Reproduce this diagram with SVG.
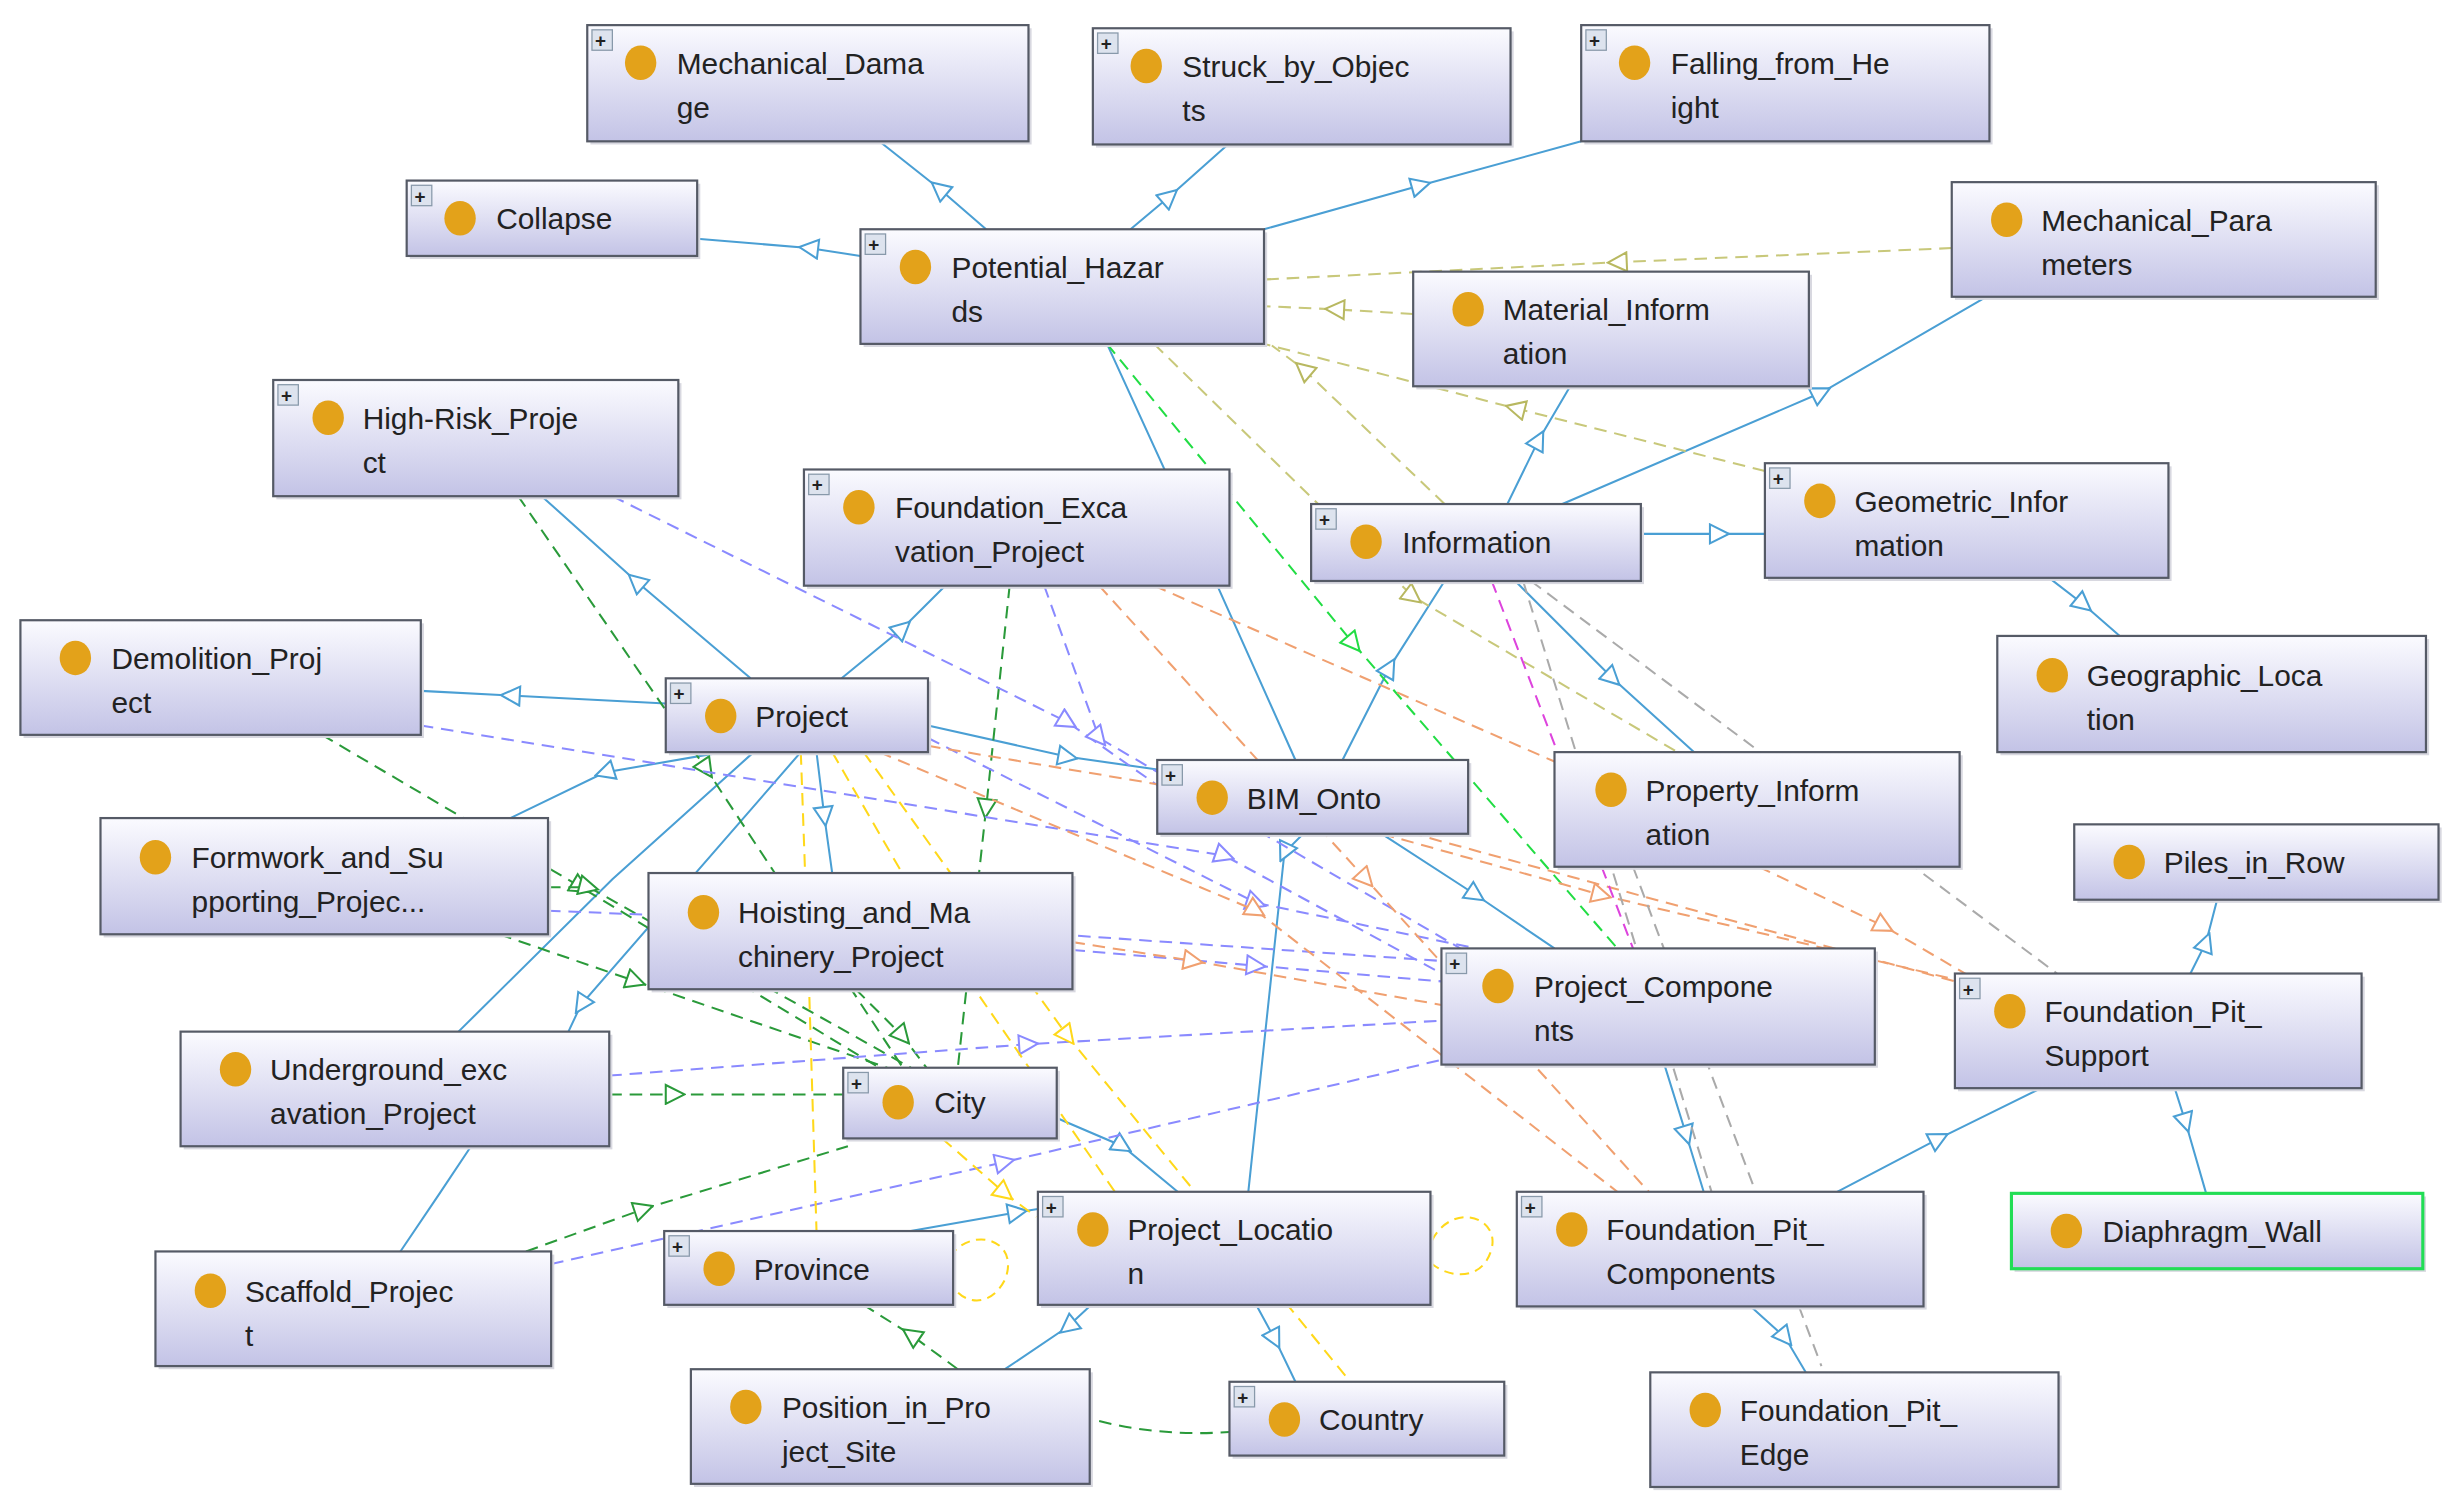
<svg xmlns="http://www.w3.org/2000/svg" width="2462" height="1510" viewBox="0 0 2462 1510">
<style>
.n rect.b{fill:url(#g);stroke:#555a66;stroke-width:1.4}
.n rect.s{fill:#d8d8e0}
.n text{font-family:"Liberation Sans",Arial,sans-serif;font-size:19px;fill:#222}
.n ellipse{fill:#e3a21a}
.n .p{fill:#dde3ee;stroke:#8899aa;stroke-width:0.8}
.n .pt{font-size:12px;font-weight:bold}
.e polyline{fill:none;stroke-width:1.3}
.bl{stroke:#4a9fd4;marker-mid:url(#mb)}
.bn{stroke:#4a9fd4}
.ol{stroke:#c8c87a;stroke-dasharray:8 5;marker-mid:url(#mo)}
.gr{stroke:#2a9a3a;stroke-dasharray:8 5;marker-mid:url(#mg)}
.lg{stroke:#22dd44;stroke-dasharray:8 5;marker-mid:url(#ml)}
.pu{stroke:#8a8aff;stroke-dasharray:8 5;marker-mid:url(#mp)}
.or{stroke:#f0a070;stroke-dasharray:8 5;marker-mid:url(#mr)}
.ye{stroke:#ffd81a;stroke-dasharray:8 5;marker-mid:url(#my)}
.gy{stroke:#aaaaaa;stroke-dasharray:8 5}
.mg2{stroke:#dd44dd;stroke-dasharray:8 5}
</style>
<defs>
<linearGradient id="g" x1="0" y1="0" x2="0" y2="1"><stop offset="0" stop-color="#fbfbff"/><stop offset="1" stop-color="#c3c3e6"/></linearGradient>
<marker id="mb" viewBox="0 0 14 14" refX="7" refY="7" markerWidth="14" markerHeight="14" markerUnits="userSpaceOnUse" orient="auto"><path d="M1,1 L13,7 L1,13 z" fill="#fff" stroke="#4a9fd4" stroke-width="1.3"/></marker>
<marker id="mo" viewBox="0 0 14 14" refX="7" refY="7" markerWidth="14" markerHeight="14" markerUnits="userSpaceOnUse" orient="auto"><path d="M1,1 L13,7 L1,13 z" fill="#fff" stroke="#b8b860" stroke-width="1.3"/></marker>
<marker id="mg" viewBox="0 0 14 14" refX="7" refY="7" markerWidth="14" markerHeight="14" markerUnits="userSpaceOnUse" orient="auto"><path d="M1,1 L13,7 L1,13 z" fill="#fff" stroke="#2a9a3a" stroke-width="1.3"/></marker>
<marker id="ml" viewBox="0 0 14 14" refX="7" refY="7" markerWidth="14" markerHeight="14" markerUnits="userSpaceOnUse" orient="auto"><path d="M1,1 L13,7 L1,13 z" fill="#fff" stroke="#22dd44" stroke-width="1.3"/></marker>
<marker id="mp" viewBox="0 0 14 14" refX="7" refY="7" markerWidth="14" markerHeight="14" markerUnits="userSpaceOnUse" orient="auto"><path d="M1,1 L13,7 L1,13 z" fill="#fff" stroke="#8a8aff" stroke-width="1.3"/></marker>
<marker id="mr" viewBox="0 0 14 14" refX="7" refY="7" markerWidth="14" markerHeight="14" markerUnits="userSpaceOnUse" orient="auto"><path d="M1,1 L13,7 L1,13 z" fill="#fff" stroke="#f0a070" stroke-width="1.3"/></marker>
<marker id="my" viewBox="0 0 14 14" refX="7" refY="7" markerWidth="14" markerHeight="14" markerUnits="userSpaceOnUse" orient="auto"><path d="M1,1 L13,7 L1,13 z" fill="#fff" stroke="#ffd81a" stroke-width="1.3"/></marker>
</defs>
<rect width="2462" height="1510" fill="#fff"/>
<g transform="scale(1.5702,1.5702)">
<g id="connectors" class="e">
<polyline class="bl" points="628,146 598,120 560,90"/>
<polyline class="bl" points="720,146 745,125 782,92"/>
<polyline class="bl" points="805,146 905,118 1007,90"/>
<polyline class="bl" points="548,163 515,158 444,152"/>
<polyline class="bl" points="960,321 980,280 1000,246"/>
<polyline class="bl" points="995,321 1160,250 1265,189"/>
<polyline class="bl" points="1045,340 1095,340 1124,340"/>
<polyline class="bl" points="1305,368 1327,385 1350,405"/>
<polyline class="bl" points="478,432 405,370 345,316"/>
<polyline class="bl" points="536,432 575,400 602,373"/>
<polyline class="bl" points="424,448 325,443 268,440"/>
<polyline class="bl" points="460,479 385,492 325,521"/>
<polyline class="bn" points="480,479 390,560 292,657"/>
<polyline class="bl" points="510,479 370,640 362,657"/>
<polyline class="bn" points="300,730 280,760 255,797"/>
<polyline class="bl" points="591,462 680,482 737,490"/>
<polyline class="bl" points="520,479 525,520 530,556"/>
<polyline class="bn" points="705,219 765,350 825,484"/>
<polyline class="bl" points="855,484 885,425 920,370"/>
<polyline class="bl" points="830,531 818,543 795,759"/>
<polyline class="bl" points="880,531 940,570 990,604"/>
<polyline class="bl" points="965,370 1027,432 1080,480"/>
<polyline class="bl" points="1060,678 1074,723 1085,759"/>
<polyline class="bl" points="1115,832 1137,852 1150,874"/>
<polyline class="bl" points="1170,759 1235,725 1300,693"/>
<polyline class="bl" points="1395,620 1405,600 1412,573"/>
<polyline class="bl" points="1385,693 1392,715 1405,760"/>
<polyline class="bl" points="695,831 680,845 640,872"/>
<polyline class="bl" points="800,831 812,853 825,880"/>
<polyline class="bl" points="580,784 648,772 661,770"/>
<polyline class="bl" points="673,712 715,730 750,759"/>
<polyline class="ol" points="1243,158 1030,167 805,178"/>
<polyline class="ol" points="900,200 850,197 805,195"/>
<polyline class="ol" points="920,321 830,235 810,220"/>
<polyline class="ol" points="1124,300 965,260 805,219"/>
<polyline class="ol" points="735,219 900,380 1070,480"/>
<polyline class="gr" points="330,316 450,490 575,680"/>
<polyline class="gr" points="205,468 370,565 560,680"/>
<polyline class="gr" points="349,565 375,565 580,680"/>
<polyline class="gr" points="318,595 405,625 565,680"/>
<polyline class="gr" points="388,697 430,697 537,697"/>
<polyline class="gr" points="335,797 410,770 540,730"/>
<polyline class="gr" points="643,373 628,515 610,680"/>
<polyline class="gr" points="545,630 575,660 590,680"/>
<path class="gr" d="M700,905 Q740,915 783,912" fill="none" stroke-width="1.3"/>
<polyline class="gr" points="610,872 580,850 550,831"/>
<polyline class="lg" points="705,219 862,410 1030,604"/>
<polyline class="pu" points="390,316 680,460 737,500"/>
<polyline class="pu" points="268,462 780,545 918,620"/>
<polyline class="pu" points="349,580 600,590 918,612"/>
<polyline class="pu" points="683,605 800,615 918,625"/>
<polyline class="pu" points="388,685 655,665 918,650"/>
<polyline class="pu" points="351,805 640,740 918,675"/>
<polyline class="pu" points="665,373 700,470 930,604"/>
<polyline class="pu" points="591,470 800,575 940,604"/>
<polyline class="or" points="735,373 990,485"/>
<polyline class="or" points="700,373 870,560 1050,759"/>
<polyline class="or" points="560,479 800,580 1030,759"/>
<polyline class="or" points="591,475 860,520 1245,625"/>
<polyline class="or" points="683,600 760,612 918,640"/>
<polyline class="or" points="880,531 1020,570 1250,625"/>
<polyline class="or" points="1120,552 1200,590 1260,625"/>
<polyline class="ye" points="510,479 515,620 520,784"/>
<polyline class="ye" points="530,479 600,600 710,759"/>
<polyline class="ye" points="550,479 680,660 860,880"/>
<polyline class="ye" points="600,725 640,760 660,775"/>
<path d="M605,800 C620,780 650,790 640,815 C630,835 610,830 605,815" fill="none" stroke="#ffd81a" stroke-dasharray="6 4" stroke-width="1.3"/>
<path d="M912,790 C925,765 955,775 950,795 C945,815 925,815 912,805" fill="none" stroke="#ffd81a" stroke-dasharray="6 4" stroke-width="1.3"/>
<polyline class="gy" points="975,370 1310,620"/>
<polyline class="gy" points="1040,552 1160,870"/>
<polyline class="gy" points="970,370 1090,759"/>
<polyline class="mg2" points="950,370 1040,604"/>
</g>
<g id="MD" class="n"><rect class="s" x="376" y="18" width="281" height="74"/><rect class="b" x="374" y="16" width="281" height="74"/><rect class="p" x="377" y="19" width="13" height="13"/><text class="pt" x="379" y="30">+</text><ellipse cx="408" cy="40" rx="10" ry="11"/><text x="431" y="47">Mechanical_Dama</text><text x="431" y="75">ge</text></g>
<g id="SO" class="n"><rect class="s" x="698" y="20" width="266" height="74"/><rect class="b" x="696" y="18" width="266" height="74"/><rect class="p" x="699" y="21" width="13" height="13"/><text class="pt" x="701" y="32">+</text><ellipse cx="730" cy="42" rx="10" ry="11"/><text x="753" y="49">Struck_by_Objec</text><text x="753" y="77">ts</text></g>
<g id="FH" class="n"><rect class="s" x="1009" y="18" width="260" height="74"/><rect class="b" x="1007" y="16" width="260" height="74"/><rect class="p" x="1010" y="19" width="13" height="13"/><text class="pt" x="1012" y="30">+</text><ellipse cx="1041" cy="40" rx="10" ry="11"/><text x="1064" y="47">Falling_from_He</text><text x="1064" y="75">ight</text></g>
<g id="CO" class="n"><rect class="s" x="261" y="117" width="185" height="48"/><rect class="b" x="259" y="115" width="185" height="48"/><rect class="p" x="262" y="118" width="13" height="13"/><text class="pt" x="264" y="129">+</text><ellipse cx="293" cy="139" rx="10" ry="11"/><text x="316" y="146">Collapse</text></g>
<g id="PH" class="n"><rect class="s" x="550" y="148" width="257" height="73"/><rect class="b" x="548" y="146" width="257" height="73"/><rect class="p" x="551" y="149" width="13" height="13"/><text class="pt" x="553" y="160">+</text><ellipse cx="583" cy="170" rx="10" ry="11"/><text x="606" y="177">Potential_Hazar</text><text x="606" y="205">ds</text></g>
<g id="MP" class="n"><rect class="s" x="1245" y="118" width="270" height="73"/><rect class="b" x="1243" y="116" width="270" height="73"/><ellipse cx="1278" cy="140" rx="10" ry="11"/><text x="1300" y="147">Mechanical_Para</text><text x="1300" y="175">meters</text></g>
<g id="MI" class="n"><rect class="s" x="902" y="175" width="252" height="73"/><rect class="b" x="900" y="173" width="252" height="73"/><ellipse cx="935" cy="197" rx="10" ry="11"/><text x="957" y="204">Material_Inform</text><text x="957" y="232">ation</text></g>
<g id="HR" class="n"><rect class="s" x="176" y="244" width="258" height="74"/><rect class="b" x="174" y="242" width="258" height="74"/><rect class="p" x="177" y="245" width="13" height="13"/><text class="pt" x="179" y="256">+</text><ellipse cx="209" cy="266" rx="10" ry="11"/><text x="231" y="273">High-Risk_Proje</text><text x="231" y="301">ct</text></g>
<g id="FE" class="n"><rect class="s" x="514" y="301" width="271" height="74"/><rect class="b" x="512" y="299" width="271" height="74"/><rect class="p" x="515" y="302" width="13" height="13"/><text class="pt" x="517" y="313">+</text><ellipse cx="547" cy="323" rx="10" ry="11"/><text x="570" y="330">Foundation_Exca</text><text x="570" y="358">vation_Project</text></g>
<g id="IN" class="n"><rect class="s" x="837" y="323" width="210" height="49"/><rect class="b" x="835" y="321" width="210" height="49"/><rect class="p" x="838" y="324" width="13" height="13"/><text class="pt" x="840" y="335">+</text><ellipse cx="870" cy="345" rx="10" ry="11"/><text x="893" y="352">Information</text></g>
<g id="GI" class="n"><rect class="s" x="1126" y="297" width="257" height="73"/><rect class="b" x="1124" y="295" width="257" height="73"/><rect class="p" x="1127" y="298" width="13" height="13"/><text class="pt" x="1129" y="309">+</text><ellipse cx="1159" cy="319" rx="10" ry="11"/><text x="1181" y="326">Geometric_Infor</text><text x="1181" y="354">mation</text></g>
<g id="GL" class="n"><rect class="s" x="1274" y="407" width="273" height="74"/><rect class="b" x="1272" y="405" width="273" height="74"/><ellipse cx="1307" cy="430" rx="10" ry="11"/><text x="1329" y="437">Geographic_Loca</text><text x="1329" y="465">tion</text></g>
<g id="DP" class="n"><rect class="s" x="15" y="397" width="255" height="73"/><rect class="b" x="13" y="395" width="255" height="73"/><ellipse cx="48" cy="419" rx="10" ry="11"/><text x="71" y="426">Demolition_Proj</text><text x="71" y="454">ect</text></g>
<g id="PR" class="n"><rect class="s" x="426" y="434" width="167" height="47"/><rect class="b" x="424" y="432" width="167" height="47"/><rect class="p" x="427" y="435" width="13" height="13"/><text class="pt" x="429" y="446">+</text><ellipse cx="459" cy="456" rx="10" ry="11"/><text x="481" y="463">Project</text></g>
<g id="BO" class="n"><rect class="s" x="739" y="486" width="198" height="47"/><rect class="b" x="737" y="484" width="198" height="47"/><rect class="p" x="740" y="487" width="13" height="13"/><text class="pt" x="742" y="498">+</text><ellipse cx="772" cy="508" rx="10" ry="11"/><text x="794" y="515">BIM_Onto</text></g>
<g id="PI" class="n"><rect class="s" x="992" y="481" width="258" height="73"/><rect class="b" x="990" y="479" width="258" height="73"/><ellipse cx="1026" cy="503" rx="10" ry="11"/><text x="1048" y="510">Property_Inform</text><text x="1048" y="538">ation</text></g>
<g id="PW" class="n"><rect class="s" x="1323" y="527" width="232" height="48"/><rect class="b" x="1321" y="525" width="232" height="48"/><ellipse cx="1356" cy="549" rx="10" ry="11"/><text x="1378" y="556">Piles_in_Row</text></g>
<g id="FS" class="n"><rect class="s" x="66" y="523" width="285" height="74"/><rect class="b" x="64" y="521" width="285" height="74"/><ellipse cx="99" cy="546" rx="10" ry="11"/><text x="122" y="553">Formwork_and_Su</text><text x="122" y="581">pporting_Projec...</text></g>
<g id="HM" class="n"><rect class="s" x="415" y="558" width="270" height="74"/><rect class="b" x="413" y="556" width="270" height="74"/><ellipse cx="448" cy="581" rx="10" ry="11"/><text x="470" y="588">Hoisting_and_Ma</text><text x="470" y="616">chinery_Project</text></g>
<g id="PC" class="n"><rect class="s" x="920" y="606" width="276" height="74"/><rect class="b" x="918" y="604" width="276" height="74"/><rect class="p" x="921" y="607" width="13" height="13"/><text class="pt" x="923" y="618">+</text><ellipse cx="954" cy="628" rx="10" ry="11"/><text x="977" y="635">Project_Compone</text><text x="977" y="663">nts</text></g>
<g id="FPS" class="n"><rect class="s" x="1247" y="622" width="259" height="73"/><rect class="b" x="1245" y="620" width="259" height="73"/><rect class="p" x="1248" y="623" width="13" height="13"/><text class="pt" x="1250" y="634">+</text><ellipse cx="1280" cy="644" rx="10" ry="11"/><text x="1302" y="651">Foundation_Pit_</text><text x="1302" y="679">Support</text></g>
<g id="UE" class="n"><rect class="s" x="117" y="659" width="273" height="73"/><rect class="b" x="115" y="657" width="273" height="73"/><ellipse cx="150" cy="681" rx="10" ry="11"/><text x="172" y="688">Underground_exc</text><text x="172" y="716">avation_Project</text></g>
<g id="CI" class="n"><rect class="s" x="539" y="682" width="136" height="45"/><rect class="b" x="537" y="680" width="136" height="45"/><rect class="p" x="540" y="683" width="13" height="13"/><text class="pt" x="542" y="694">+</text><ellipse cx="572" cy="702" rx="10" ry="11"/><text x="595" y="709">City</text></g>
<g id="DW" class="n"><rect class="s" x="1283" y="762" width="262" height="48"/><rect class="b" x="1281" y="760" width="262" height="48" style="stroke:#22dd55;stroke-width:2"/><ellipse cx="1316" cy="784" rx="10" ry="11"/><text x="1339" y="791">Diaphragm_Wall</text></g>
<g id="FPC" class="n"><rect class="s" x="968" y="761" width="259" height="73"/><rect class="b" x="966" y="759" width="259" height="73"/><rect class="p" x="969" y="762" width="13" height="13"/><text class="pt" x="971" y="773">+</text><ellipse cx="1001" cy="783" rx="10" ry="11"/><text x="1023" y="790">Foundation_Pit_</text><text x="1023" y="818">Components</text></g>
<g id="PL" class="n"><rect class="s" x="663" y="761" width="250" height="72"/><rect class="b" x="661" y="759" width="250" height="72"/><rect class="p" x="664" y="762" width="13" height="13"/><text class="pt" x="666" y="773">+</text><ellipse cx="696" cy="783" rx="10" ry="11"/><text x="718" y="790">Project_Locatio</text><text x="718" y="818">n</text></g>
<g id="PV" class="n"><rect class="s" x="425" y="786" width="184" height="47"/><rect class="b" x="423" y="784" width="184" height="47"/><rect class="p" x="426" y="787" width="13" height="13"/><text class="pt" x="428" y="798">+</text><ellipse cx="458" cy="808" rx="10" ry="11"/><text x="480" y="815">Province</text></g>
<g id="SP" class="n"><rect class="s" x="101" y="799" width="252" height="73"/><rect class="b" x="99" y="797" width="252" height="73"/><ellipse cx="134" cy="822" rx="10" ry="11"/><text x="156" y="829">Scaffold_Projec</text><text x="156" y="857">t</text></g>
<g id="PS" class="n"><rect class="s" x="442" y="874" width="254" height="73"/><rect class="b" x="440" y="872" width="254" height="73"/><ellipse cx="475" cy="896" rx="10" ry="11"/><text x="498" y="903">Position_in_Pro</text><text x="498" y="931">ject_Site</text></g>
<g id="CT" class="n"><rect class="s" x="785" y="882" width="175" height="47"/><rect class="b" x="783" y="880" width="175" height="47"/><rect class="p" x="786" y="883" width="13" height="13"/><text class="pt" x="788" y="894">+</text><ellipse cx="818" cy="904" rx="10" ry="11"/><text x="840" y="911">Country</text></g>
<g id="FPE" class="n"><rect class="s" x="1053" y="876" width="260" height="73"/><rect class="b" x="1051" y="874" width="260" height="73"/><ellipse cx="1086" cy="898" rx="10" ry="11"/><text x="1108" y="905">Foundation_Pit_</text><text x="1108" y="933">Edge</text></g>
</g>
</svg>
